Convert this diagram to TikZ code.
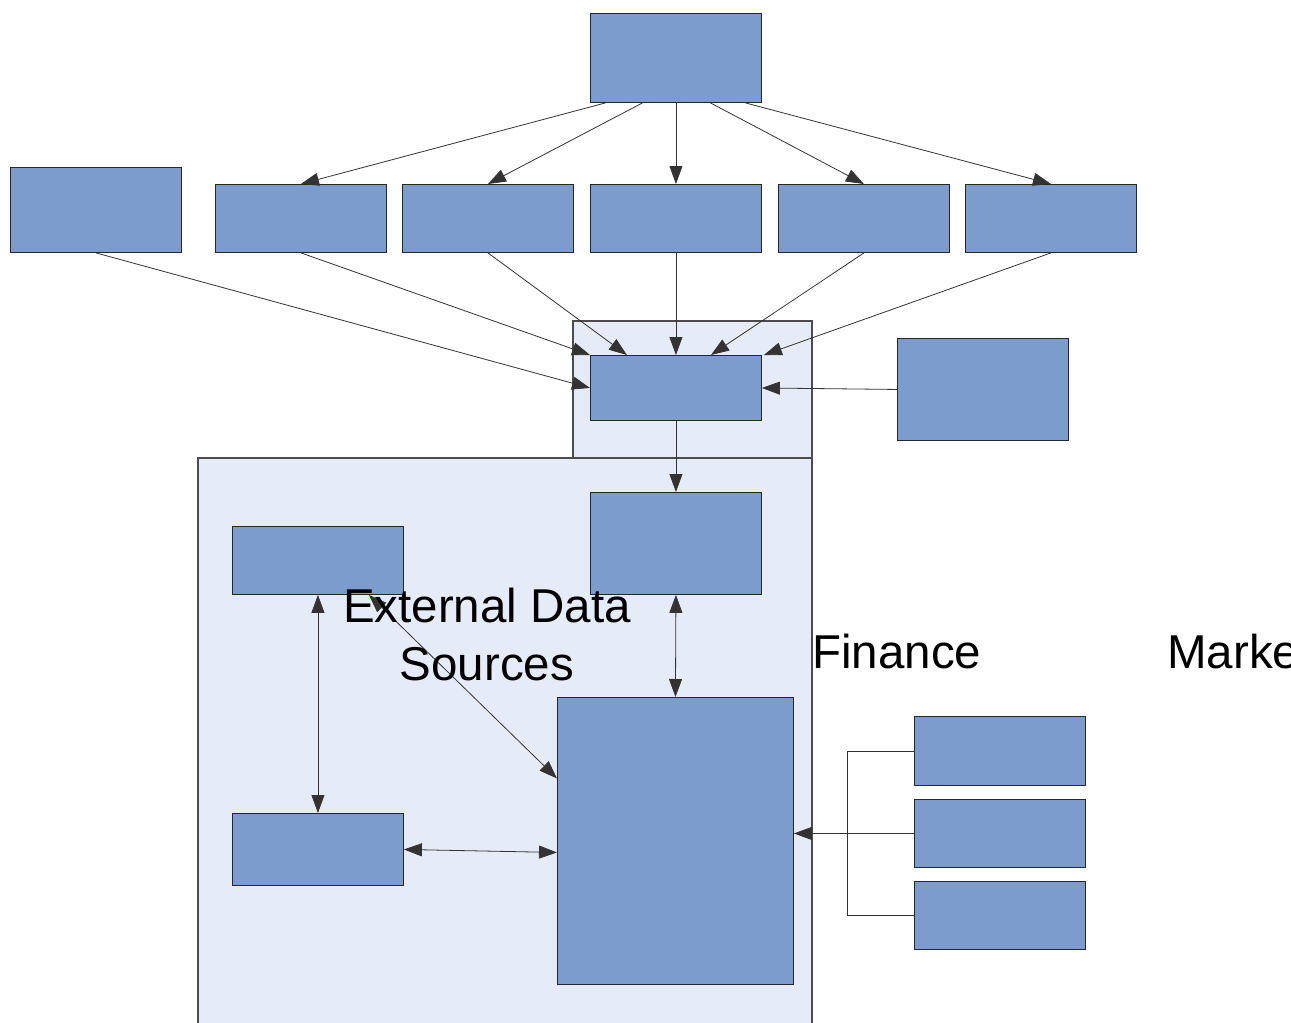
\documentclass[tikz,border=0pt]{standalone}
\usepackage{fontspec}
\setmainfont{Liberation Sans}
\usetikzlibrary{arrows.meta,calc}
\definecolor{boxblue}{HTML}{7B9CCC}
\definecolor{panel}{HTML}{E6ECF7}
\definecolor{wire}{HTML}{333333}
\begin{document}
\begin{tikzpicture}[x=1pt,y=-1pt,
  box/.style={draw=black!85,line width=0.9pt,fill=boxblue,inner sep=0pt,anchor=north west},
  panelbox/.style={draw=black!70,line width=1.2pt,fill=panel},
  link/.style={draw=wire,line width=0.8pt,-{Triangle[length=18pt,width=13pt]}},
  dlink/.style={draw=wire,line width=0.8pt,{Triangle[length=18pt,width=13pt]}-{Triangle[length=18pt,width=13pt]}},
  plain/.style={draw=wire,line width=0.8pt},
  label/.style={font=\fontsize{47.5}{58}\selectfont,inner sep=0pt}]
\useasboundingbox (0,0) rectangle (1291,1023);
\fill[white] (0,0) rectangle (1291,1023);

% shaded panels
\draw[panelbox] (573,321) rectangle (812,458);
\draw[panelbox] (198,458) rectangle (812,1030);

% top level
\node[box,minimum width=171pt,minimum height=89pt] (top) at (590,13) {};

% second row
\node[box,minimum width=171pt,minimum height=85pt] (r0) at (10,167) {};
\node[box,minimum width=171pt,minimum height=68pt] (r1) at (215,184) {};
\node[box,minimum width=171pt,minimum height=68pt] (r2) at (402,184) {};
\node[box,minimum width=171pt,minimum height=68pt] (r3) at (590,184) {};
\node[box,minimum width=171pt,minimum height=68pt] (r4) at (778,184) {};
\node[box,minimum width=171pt,minimum height=68pt] (r5) at (965,184) {};

% hub and its side feed
\node[box,minimum width=171pt,minimum height=65pt] (hub) at (590,355) {};
\node[box,minimum width=171pt,minimum height=102pt] (side) at (897,338) {};

% lower panel
\node[box,minimum width=171pt,minimum height=102pt] (mid) at (590,492) {};
\node[box,minimum width=171pt,minimum height=68pt] (la) at (232,526) {};
\node[box,minimum width=171pt,minimum height=72pt] (lb) at (232,813) {};
\node[box,minimum width=236pt,minimum height=287pt] (big) at (557,697) {};

% right-hand group
\node[box,minimum width=171pt,minimum height=69pt] (q1) at (914,716) {};
\node[box,minimum width=171pt,minimum height=68pt] (q2) at (914,799) {};
\node[box,minimum width=171pt,minimum height=68pt] (q3) at (914,881) {};

% fan-out from the top box
\draw[link] ([xshift=-70.5pt]top.south) -- (r1.north);
\draw[link] ([xshift=-33.5pt]top.south) -- (r2.north);
\draw[link] (top.south) -- (r3.north);
\draw[link] ([xshift=34.5pt]top.south) -- (r4.north);
\draw[link] ([xshift=69.5pt]top.south) -- (r5.north);

% fan-in to the hub
\draw[link] (r0.south) -- (hub.west);
\draw[link] (r1.south) -- (hub.north west);
\draw[link] (r2.south) -- ([xshift=-49pt]hub.north);
\draw[link] (r3.south) -- (hub.north);
\draw[link] (r4.south) -- ([xshift=35pt]hub.north);
\draw[link] (r5.south) -- ([xshift=2pt]hub.north east);
\draw[link] (side.west) -- (hub.east);

% lower panel flows
\draw[link] (hub.south) -- (mid.north);
\draw[dlink] (mid.south) -- (big.north);
\draw[dlink] (la.south) -- (lb.north);
\draw[dlink] ([xshift=-35pt]la.south east) -- ([yshift=62.5pt]big.west);
\draw[dlink] (lb.east) -- ([yshift=-11.5pt]big.west);

% right-hand bracket
\draw[plain] (q1.west) -- ++(-67,0) |- (q3.west);
\draw[link] (q2.west) -- (q2.west -| big.east);

% labels
\node[label,align=center,anchor=north] (ext) at (487,588) {External Data\\Sources};
\node[label,anchor=base west] (fin) at (812,668) {Finance};
\node[label,anchor=base west] (mkt) at (1167,668) {Marketing};
\end{tikzpicture}
\end{document}
